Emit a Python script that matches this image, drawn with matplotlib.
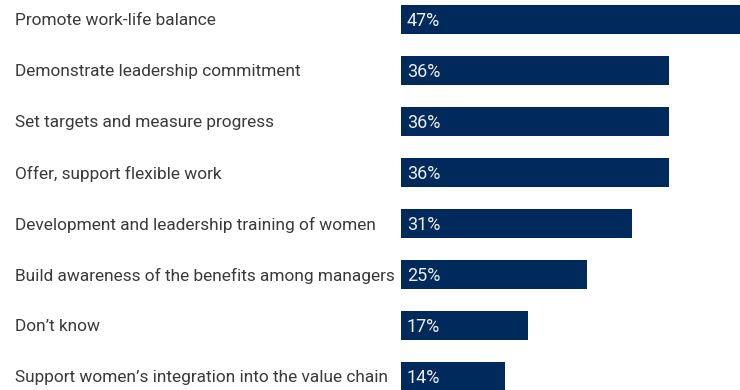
import matplotlib
matplotlib.use("Agg")
import matplotlib.pyplot as plt

categories = [
    "Promote work-life balance",
    "Demonstrate leadership commitment",
    "Set targets and measure progress",
    "Offer, support flexible work",
    "Development and leadership training of women",
    "Build awareness of the benefits among managers",
    "Don\u2019t know",
    "Support women\u2019s integration into the value chain",
]
values = [47, 36, 36, 36, 31, 25, 17, 14]
value_labels = [f"{v}%" for v in values]

plt.rcParams["font.family"] = ["Roboto", "DejaVu Sans"]

W, H = 740, 390
fig = plt.figure(figsize=(W / 100, H / 100), dpi=100)
x0 = 401
ax = fig.add_axes([x0 / W, 0, (W - x0) / W, 1])
pxper = 7.45
ax.set_xlim(0, (W - x0) / pxper)
pitch = 51.0
ax.set_ylim((H - 19.5) / pitch, -19.5 / pitch)
ax.axis("off")

ypos = list(range(len(categories)))
ax.barh(ypos, values, height=29 / pitch, color="#002a5c", left=0)
for y, lab in zip(ypos, value_labels):
    ax.text(0.8, y + 0.03, lab, color="#eeeeee", fontsize=13,
            va="center", ha="left")
for y, cat in zip(ypos, categories):
    fig.text(15 / W, 1 - (20.5 + pitch * y) / H, cat, color="#3a3a3a", fontsize=12.4,
             va="center", ha="left")

fig.savefig("out.png", dpi=100)
